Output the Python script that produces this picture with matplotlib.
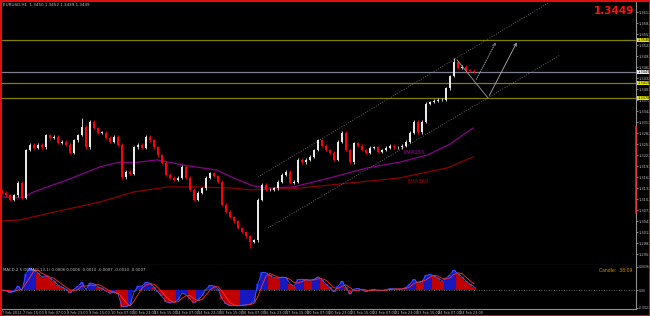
import matplotlib
matplotlib.use('Agg')
import matplotlib.pyplot as plt
from matplotlib.lines import Line2D
from matplotlib.patches import Rectangle
from matplotlib.transforms import blended_transform_factory
import numpy as np
import pandas as pd

# EURUSD H1, closes (one candle here ~ 3 hourly bars)
first_open = 1.3125
closes = [
    1.3119, 1.3113, 1.3100, 1.3113, 1.3146, 1.3105, 1.3236, 1.3250, 1.3242, 1.3250,
    1.3244, 1.3277, 1.3269, 1.3272, 1.3255, 1.3258, 1.3250, 1.3228, 1.3263, 1.3277,
    1.3299, 1.3244, 1.3313, 1.3296, 1.3283, 1.3283, 1.3269, 1.3258, 1.3272, 1.3250,
    1.3162, 1.3176, 1.3171, 1.3244, 1.3250, 1.3242, 1.3272, 1.3263, 1.3244, 1.3222,
    1.3201, 1.3168, 1.3160, 1.3154, 1.3160, 1.3190, 1.3160, 1.3127, 1.3100, 1.3119,
    1.3132, 1.3160, 1.3173, 1.3165, 1.3149, 1.3086, 1.3067, 1.3053, 1.3042, 1.3023,
    1.3012, 1.3001, 1.2985, 1.2990, 1.3100, 1.3141, 1.3127, 1.3127, 1.3132, 1.3149,
    1.3168, 1.3176, 1.3146, 1.3149, 1.3209, 1.3203, 1.3209, 1.3217, 1.3236, 1.3263,
    1.3247, 1.3236, 1.3228, 1.3209, 1.3258, 1.3283, 1.3236, 1.3203, 1.3255, 1.3247,
    1.3236, 1.3228, 1.3242, 1.3244, 1.3231, 1.3236, 1.3242, 1.3247, 1.3244, 1.3244,
    1.3247, 1.3258, 1.3283, 1.3313, 1.3285, 1.3313, 1.3362, 1.3367, 1.3370, 1.3373,
    1.3373, 1.3405, 1.3438, 1.3476, 1.3460, 1.3463, 1.3454, 1.3452, 1.3449,
]
# wicks that stick out further than usual: index -> (high, low)
spikes = {20: (1.3322, None), 22: (1.3318, None), 62: (None, 1.2969), 113: (1.3486, None)}

# moving averages: (candle index, price)
ema150_x = [-0.5, 5.25, 7.75, 16.25, 24.5, 29.5, 32.75, 38.75, 45.25, 53.75, 57.75,
            62.75, 66.25, 72.75, 82.75, 91.25, 99.5, 106.25, 112, 117.75]
ema150_y = [1.3108, 1.3105, 1.3121, 1.3154, 1.3190, 1.3203, 1.3201, 1.3209, 1.3195, 1.3181,
            1.3160, 1.3138, 1.3132, 1.3135, 1.3162, 1.3187, 1.3203, 1.3222, 1.3252, 1.3296]
ema360_x = [-0.5, 4.5, 12, 24.5, 32.75, 41.25, 49.5, 57.75, 62, 74.5, 87, 94.5, 99.5,
            111.25, 117.75]
ema360_y = [1.3042, 1.3045, 1.3064, 1.3094, 1.3121, 1.3135, 1.3135, 1.3132, 1.3127, 1.3132,
            1.3146, 1.3154, 1.3160, 1.3187, 1.3217]

# objects drawn on the chart
hlines_olive = [1.3536, 1.3419, 1.3378]
bid = 1.3449
channel_up = ([64, 136.5], [1.3162, 1.3637])
channel_lo = ([66.5, 139.5], [1.3023, 1.3495])
path_solid = ([113.75, 121.5, 129], [1.3482, 1.3378, 1.3536])
path_dotted = ([118.25, 123.75], [1.3422, 1.3536])

date_labels = ['7 Feb 2012', '7 Feb 15:00', '8 Feb 07:00', '8 Feb 23:00', '9 Feb 15:00',
               '10 Feb 07:00', '10 Feb 23:00', '13 Feb 15:00', '14 Feb 07:00', '14 Feb 23:00',
               '15 Feb 15:00', '16 Feb 07:00', '16 Feb 23:00', '17 Feb 15:00', '20 Feb 07:00',
               '20 Feb 23:00', '21 Feb 15:00', '22 Feb 07:00', '22 Feb 23:00', '23 Feb 15:00',
               '24 Feb 07:00', '24 Feb 23:00']
price_ticks = [1.3612 - 0.0030 * k for k in range(23)]

W, H = 650, 316
fx = lambda px: px / W
fy = lambda py: 1 - py / H

fig = plt.figure(figsize=(6.5, 3.16), dpi=100, facecolor='black')
ax = fig.add_axes([fx(1), fy(265), fx(636) - fx(1), fy(2) - fy(265)], facecolor='black')
am = fig.add_axes([fx(1), fy(309), fx(636) - fx(1), fy(265) - fy(309)], facecolor='black')

xl = (-0.25, 158.5)
ax.set_xlim(xl)
am.set_xlim(xl)
ax.set_ylim(1.2922, 1.3640)

# candles
c = np.array(closes)
o = np.array([first_open] + closes[:-1])
idx = np.arange(len(c))
up = c >= o
cols = np.where(up, '#e8e8e8', '#ff0000')
hi = np.maximum(o, c) + 0.0004
lo = np.minimum(o, c) - 0.0004
for k, (h, l) in spikes.items():
    if h is not None:
        hi[k] = h
    if l is not None:
        lo[k] = l
ax.vlines(idx, lo, hi, colors=cols, linewidth=0.6, zorder=3)
ax.bar(idx, np.maximum(np.abs(c - o), 0.00008), bottom=np.minimum(o, c), width=0.62,
       color=cols, linewidth=0, zorder=4)

ax.plot(ema150_x, ema150_y, color='#8a008a', lw=0.9, zorder=2)
ax.plot(ema360_x, ema360_y, color='#8b0000', lw=0.9, zorder=2)
ax.text(100.5, 1.3224, 'EMA150', color='#a000a0', fontsize=3.8, zorder=5)
ax.text(101.5, 1.3147, 'EMA360', color='#b00000', fontsize=3.8, zorder=5)

for p in hlines_olive:
    ax.axhline(p, color='#808000', lw=0.9, zorder=1)
ax.axhline(bid, color='#7a8090', lw=0.9, zorder=1)

ax.plot(*channel_up, color='#808080', lw=0.6, ls=(0, (1, 2)), zorder=2)
ax.plot(*channel_lo, color='#808080', lw=0.6, ls=(0, (1, 2)), zorder=2)
ax.plot(path_solid[0][:2], path_solid[1][:2], color='#a0a0a0', lw=0.6, zorder=5)
ax.annotate('', xy=(path_solid[0][2], path_solid[1][2]), xytext=(path_solid[0][1], path_solid[1][1]),
            arrowprops=dict(arrowstyle='->', color='#b0b0b0', lw=0.6, mutation_scale=5), zorder=5)
ax.annotate('', xy=(path_dotted[0][1], path_dotted[1][1]), xytext=(path_dotted[0][0], path_dotted[1][0]),
            arrowprops=dict(arrowstyle='->', color='#b0b0b0', lw=0.6, ls=(0, (1, 1.5)),
                            mutation_scale=5), zorder=5)

# price axis
shown = [p for p in price_ticks if 1.2925 < p < 1.3638]
ax.yaxis.tick_right()
ax.set_yticks(shown)
ax.set_yticklabels(['%.4f' % p for p in shown])
ax.tick_params(axis='y', colors='#c0c0c0', labelsize=2.6, length=1.5, width=0.5, pad=0.6)
ax.set_xticks([])
tr = blended_transform_factory(ax.transAxes, ax.transData)
for p in hlines_olive:
    ax.text(1.002, p, '%.4f' % p, transform=tr, fontsize=2.6, color='black', va='center',
            bbox=dict(boxstyle='square,pad=0.1', fc='#e8e800', ec='none'), clip_on=False, zorder=6)
ax.text(1.002, bid, '%.4f' % bid, transform=tr, fontsize=2.6, color='black', va='center',
        bbox=dict(boxstyle='square,pad=0.1', fc='#f0f0f0', ec='none'), clip_on=False, zorder=6)

for a in (ax, am):
    for s in ('top', 'left'):
        a.spines[s].set_visible(False)
    a.spines['right'].set_color('#909090')
    a.spines['bottom'].set_color('#909090')
    a.spines['right'].set_linewidth(0.8)
    a.spines['bottom'].set_linewidth(0.8)

# MACD panel, computed from the closes
cs = pd.Series(c)
macd = (cs.ewm(span=3, adjust=False).mean() - cs.ewm(span=6, adjust=False).mean()).values
signal = pd.Series(macd).rolling(3, min_periods=1).mean().values
mcol = np.where(macd >= signal, '#1818c0', '#c00000')
am.bar(idx, macd, width=0.95, color=mcol, linewidth=0, zorder=2)
am.plot(idx, macd, color='#4060ff', lw=0.6, zorder=3)
am.plot(idx, signal, color='#ff3030', lw=0.6, zorder=3)
am.axhline(0, color='#909090', lw=0.6, ls=(0, (1, 2)), zorder=1)
top = np.abs(macd).max() / 22 * 25
am.set_ylim(-top * 19 / 25, top)
am.yaxis.tick_right()
am.set_yticks([top * 0.93, 0, -top * 0.7])
am.set_yticklabels(['%.4f' % (top * 0.93), '0.00', '%.4f' % (-top * 0.7)])
am.tick_params(axis='y', colors='#c0c0c0', labelsize=2.2, length=1.5, width=0.5, pad=0.5)

xt = [((1.5 + 21.85 * k) - 2) / 4 for k in range(len(date_labels))]
am.set_xticks(xt)
am.set_xticklabels(date_labels)
am.tick_params(axis='x', colors='#c0c0c0', labelsize=2.5, length=1, width=0.5, pad=0.3)
for lbl in am.get_xticklabels():
    lbl.set_ha('left')

am.text(0.003, 0.93, 'MACD-2 5 DEMA(5,13,1) 0.0006 0.0006 -0.0010 -0.0007 -0.0010 -0.0007',
        transform=am.transAxes, fontsize=2.8, color='#c0c0c0', va='top')
am.text(0.995, 0.93, 'Candle:  38:09', transform=am.transAxes, fontsize=3.3, color='#d09000',
        va='top', ha='right')

# header texts
fig.text(fx(3), fy(5), 'EURUSD,H1  1.3450 1.3452 1.3439 1.3449', fontsize=3, color='#c0c0c0',
         va='center')
fig.text(fx(634), fy(11), '1.3449', fontsize=7.5, fontweight='bold', color='#ff1010',
         ha='right', va='center')

# red range mark on the price axis and the window frame
fig.add_artist(Line2D([fx(636), fx(636)], [fy(127), fy(213)], color='#ff2020', lw=1.1))
fig.add_artist(Rectangle((0, 0), 1, 1, transform=fig.transFigure, fill=False,
                         edgecolor='#e01010', lw=2.2))

fig.savefig('out.png', dpi=100, facecolor='black')
